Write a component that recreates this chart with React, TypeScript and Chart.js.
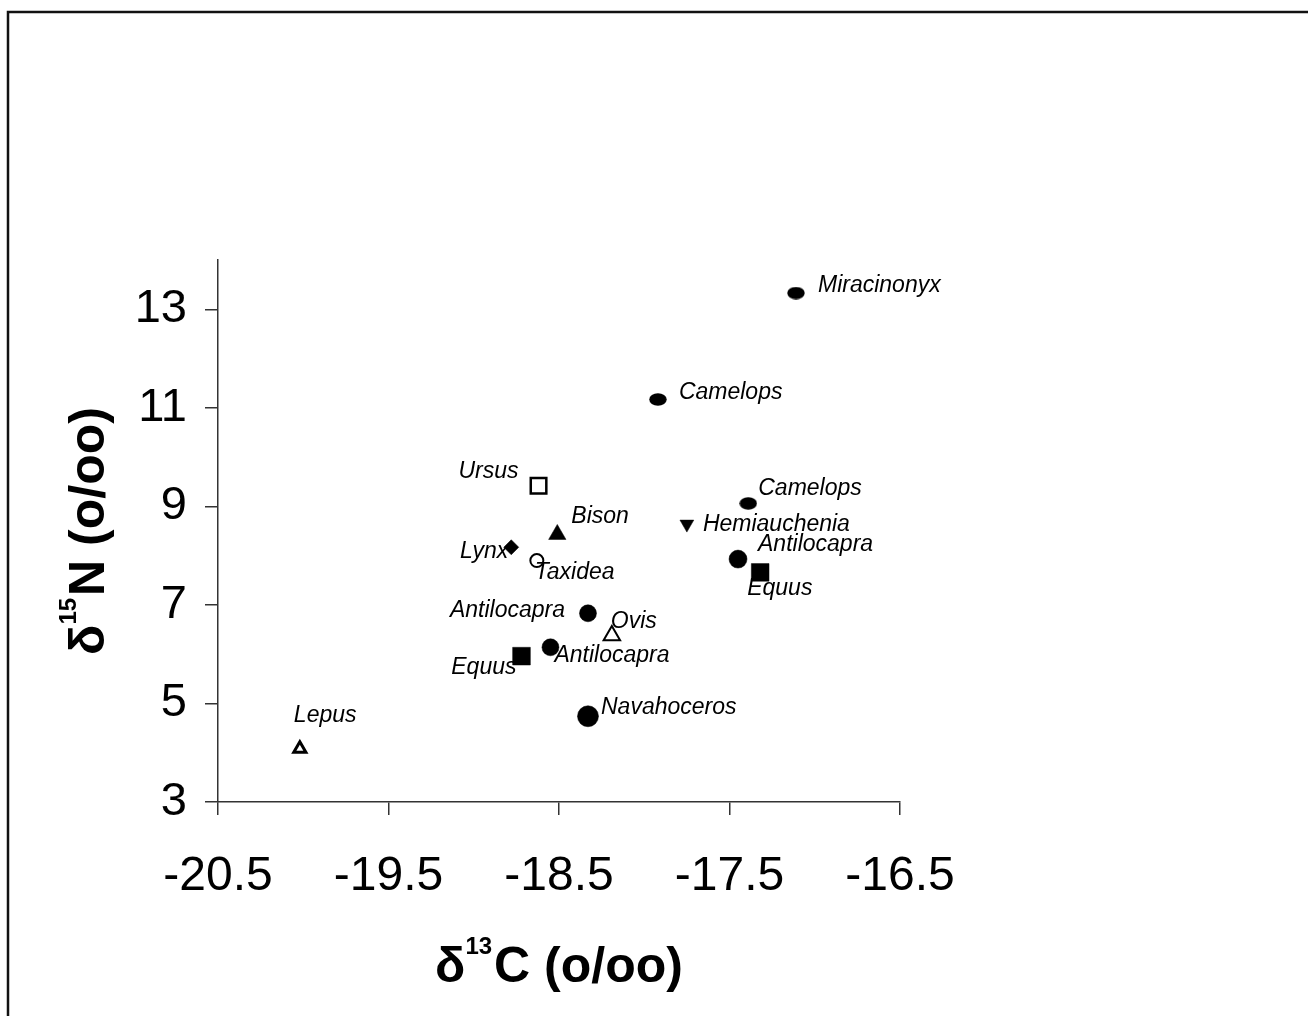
import React, { useEffect, useRef } from 'react';
import { Chart, registerables } from 'chart.js';

Chart.register(...registerables);

// ---- data ----
const genera = [
  'Miracinonyx', 'Camelops', 'Ursus', 'Camelops', 'Bison', 'Hemiauchenia',
  'Lynx', 'Taxidea', 'Antilocapra', 'Equus', 'Antilocapra', 'Ovis',
  'Antilocapra', 'Equus', 'Navahoceros', 'Lepus',
];
const d13C = [
  -17.11, -17.92, -18.62, -17.39, -18.51, -17.75,
  -18.78, -18.63, -17.45, -17.32, -18.33, -18.19,
  -18.55, -18.72, -18.33, -20.02,
];
const d15N = [
  13.33, 11.17, 9.42, 9.06, 8.43, 8.64,
  8.17, 7.90, 7.93, 7.66, 6.83, 6.38,
  6.14, 5.96, 4.74, 4.08,
];
const xTicks = [-20.5, -19.5, -18.5, -17.5, -16.5];
const yTicks = [3, 5, 7, 9, 11, 13];
const xTitleParts = ['δ', '13', 'C (o/oo)'];
const yTitleParts = ['δ', '15', 'N (o/oo)'];

// ---- styling (marker shapes, label placement) ----
type Marker = { shape: string; r: number; fill: boolean; rot?: number; bw?: number };
const markers: Marker[] = [
  { shape: 'ellipse', r: 6, fill: true },
  { shape: 'ellipse', r: 6, fill: true },
  { shape: 'rect', r: 11, fill: false, bw: 2.5 },
  { shape: 'ellipse', r: 6, fill: true },
  { shape: 'triangle', r: 10, fill: true },
  { shape: 'triangle', r: 8, fill: true, rot: 180 },
  { shape: 'rectRot', r: 7.5, fill: true },
  { shape: 'circle', r: 6.5, fill: false, bw: 2 },
  { shape: 'circle', r: 9, fill: true },
  { shape: 'rect', r: 12.5, fill: true },
  { shape: 'circle', r: 8.5, fill: true },
  { shape: 'triangle', r: 9.5, fill: false, bw: 2 },
  { shape: 'circle', r: 8.5, fill: true },
  { shape: 'rect', r: 12.5, fill: true },
  { shape: 'circle', r: 10.5, fill: true },
  { shape: 'triangle', r: 7, fill: false, bw: 3 },
];
type Place = { dx: number; dy: number; align: CanvasTextAlign };
const labelPlaces: Place[] = [
  { dx: 22, dy: -1, align: 'left' },
  { dx: 21, dy: 0, align: 'left' },
  { dx: -20, dy: -8, align: 'right' },
  { dx: 10, dy: -8, align: 'left' },
  { dx: 14, dy: -11, align: 'left' },
  { dx: 16, dy: 7, align: 'left' },
  { dx: -3, dy: 11, align: 'right' },
  { dx: -2, dy: 18, align: 'left' },
  { dx: 20, dy: -8, align: 'left' },
  { dx: -13, dy: 23, align: 'left' },
  { dx: -23, dy: 4, align: 'right' },
  { dx: -1, dy: -7, align: 'left' },
  { dx: 4, dy: 15, align: 'left' },
  { dx: -5, dy: 18, align: 'right' },
  { dx: 13, dy: -2, align: 'left' },
  { dx: -6, dy: -27, align: 'left' },
];

const FAMILY = '"Liberation Sans", Arial, Helvetica, sans-serif';

function ellipseImage(w: number, h: number): HTMLCanvasElement {
  const c = document.createElement('canvas');
  c.width = w;
  c.height = h;
  const g = c.getContext('2d')!;
  g.fillStyle = '#000';
  g.beginPath();
  g.ellipse(w / 2, h / 2, w / 2 - 0.3, h / 2 - 0.3, 0, 0, Math.PI * 2);
  g.fill();
  return c;
}

function drawSupTitle(ctx: CanvasRenderingContext2D, parts: string[]) {
  const mainFont = `bold 50px ${FAMILY}`;
  const supFont = `bold 24px ${FAMILY}`;
  ctx.font = mainFont;
  const w0 = ctx.measureText(parts[0]).width;
  const w2 = ctx.measureText(parts[2]).width;
  ctx.font = supFont;
  const w1 = ctx.measureText(parts[1]).width;
  const total = w0 + w1 + w2 + 2;
  let x = -total / 2;
  ctx.textAlign = 'left';
  ctx.textBaseline = 'alphabetic';
  ctx.fillStyle = '#000';
  ctx.font = mainFont;
  ctx.fillText(parts[0], x, 0);
  x += w0;
  ctx.font = supFont;
  ctx.fillText(parts[1], x, -28);
  x += w1 + 2;
  ctx.font = mainFont;
  ctx.fillText(parts[2], x, 0);
}

const decorPlugin = {
  id: 'decor',
  beforeDraw(chart: any) {
    const ctx = chart.ctx as CanvasRenderingContext2D;
    ctx.save();
    ctx.fillStyle = '#ffffff';
    ctx.fillRect(0, 0, chart.width, chart.height);
    ctx.strokeStyle = '#111';
    ctx.lineWidth = 2.5;
    ctx.beginPath();
    ctx.moveTo(8, chart.height);
    ctx.lineTo(8, 12);
    ctx.lineTo(chart.width, 12);
    ctx.stroke();
    ctx.restore();
  },
  afterDatasetsDraw(chart: any) {
    const ctx = chart.ctx as CanvasRenderingContext2D;
    const meta = chart.getDatasetMeta(0);
    ctx.save();
    ctx.font = `italic 23px ${FAMILY}`;
    ctx.fillStyle = '#000';
    ctx.textBaseline = 'alphabetic';
    meta.data.forEach((pt: any, i: number) => {
      const p = labelPlaces[i];
      ctx.textAlign = p.align;
      ctx.fillText(genera[i], pt.x + p.dx, pt.y + p.dy);
    });
    ctx.restore();
  },
  afterDraw(chart: any) {
    const ctx = chart.ctx as CanvasRenderingContext2D;
    const a = chart.chartArea;
    ctx.save();
    ctx.translate((a.left + a.right) / 2, 982);
    drawSupTitle(ctx, xTitleParts);
    ctx.restore();
    ctx.save();
    ctx.translate(104, (a.top + a.bottom) / 2);
    ctx.rotate(-Math.PI / 2);
    drawSupTitle(ctx, yTitleParts);
    ctx.restore();
  },
};

export default function App() {
  const ref = useRef<HTMLCanvasElement | null>(null);

  useEffect(() => {
    if (!ref.current) return;
    const ell = ellipseImage(18, 13);
    const styles = markers.map((m) => (m.shape === 'ellipse' ? ell : m.shape));
    const chart = new Chart(ref.current, {
      type: 'scatter',
      data: {
        datasets: [
          {
            data: d13C.map((x, i) => ({ x, y: d15N[i] })),
            pointStyle: styles as any,
            pointRadius: markers.map((m) => m.r),
            pointRotation: markers.map((m) => m.rot || 0),
            pointBackgroundColor: markers.map((m) => (m.fill ? '#000' : '#fff')),
            pointBorderColor: '#000',
            pointBorderWidth: markers.map((m) => (m.fill ? 0.5 : m.bw || 2)),
          } as any,
        ],
      },
      options: {
        animation: false,
        responsive: false,
        maintainAspectRatio: false,
        layout: { padding: { left: 0, top: 260, right: 408, bottom: 0 } },
        plugins: {
          legend: { display: false },
          tooltip: { enabled: false },
          title: { display: false },
        },
        scales: {
          x: {
            type: 'linear',
            position: 'bottom',
            min: -20.5,
            max: -16.5,
            afterBuildTicks: (s: any) => {
              s.ticks = xTicks.map((v) => ({ value: v }));
            },
            afterFit: (s: any) => {
              s.height = 214;
            },
            grid: {
              drawOnChartArea: false,
              drawTicks: true,
              tickLength: 13,
              color: '#333',
              lineWidth: 1.5,
            },
            border: { display: true, color: '#333', width: 1.5 },
            ticks: {
              font: { family: FAMILY, size: 48 },
              color: '#000',
              padding: 33,
              maxRotation: 0,
              autoSkip: false,
              callback: (v: any) => Number(v).toFixed(1),
            },
          },
          y: {
            type: 'linear',
            min: 3,
            max: 14,
            afterBuildTicks: (s: any) => {
              s.ticks = yTicks.map((v) => ({ value: v }));
            },
            afterFit: (s: any) => {
              s.width = 218;
            },
            grid: {
              drawOnChartArea: false,
              drawTicks: true,
              tickLength: 13,
              color: '#333',
              lineWidth: 1.5,
            },
            border: { display: true, color: '#333', width: 1.5 },
            ticks: {
              font: { family: FAMILY, size: 47 },
              color: '#000',
              padding: 18,
              autoSkip: false,
              callback: (v: any) => String(v),
            },
          },
        },
      },
      plugins: [decorPlugin],
    });
    return () => chart.destroy();
  }, []);

  return (
    <canvas
      ref={ref}
      width={1308}
      height={1016}
      style={{ position: 'absolute', left: 0, top: 0, display: 'block' }}
    />
  );
}
